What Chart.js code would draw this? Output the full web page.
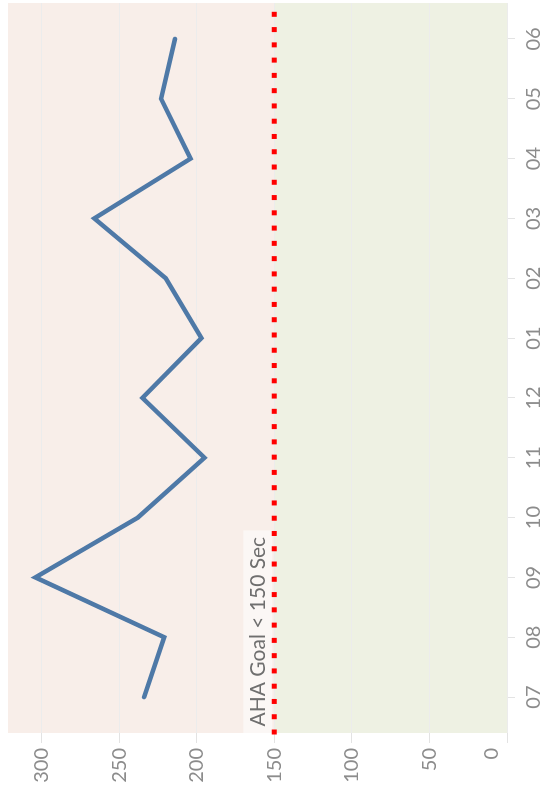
<!DOCTYPE html>
<html>
<head>
<meta charset="utf-8">
<script src="https://cdn.jsdelivr.net/npm/chart.js@4.4.1/dist/chart.umd.min.js"></script>
<style>
  html, body { margin: 0; padding: 0; background: #fff; }
  #wrap { position: relative; width: 543px; height: 787px; overflow: hidden; background: #fff; }
  /* the chart is laid out landscape and turned a quarter turn to stand upright */
  #chart { position: absolute; left: 0; top: 0; width: 787px; height: 543px;
           transform-origin: 0 0; transform: translate(0, 787px) rotate(-90deg); }
</style>
</head>
<body>
<div id="wrap"><canvas id="chart" width="787" height="543"></canvas></div>
<script>
// Monthly door-to-needle time (seconds)
const months = ['07', '08', '09', '10', '11', '12', '01', '02', '03', '04', '05', '06'];
const seconds = [234, 221, 304, 238, 195, 235, 197, 220, 266, 204, 223, 214];
const valueTicks = [0, 50, 100, 150, 200, 250, 300];
const goal = 150;
const goalLabel = 'AHA Goal < 150 Sec';

const FONT = 'Lato, "Open Sans", sans-serif';
const TICK_COLOR = '#8c8c8c';

// Shaded zones above / below the goal, plus nudging the "0" label inside the axis
const zones = {
  id: 'zones',
  beforeDraw(chart) {
    const { ctx, chartArea: a, scales: { y } } = chart;
    const g = y.getPixelForValue(goal);
    ctx.save();
    ctx.fillStyle = '#f8eee9';
    ctx.fillRect(a.left, a.top, a.right - a.left, g - a.top);
    ctx.fillStyle = '#eef1e3';
    ctx.fillRect(a.left, g, a.right - a.left, a.bottom - g);
    ctx.restore();

    if (typeof y.getLabelItems === 'function') {
      const items = y.getLabelItems();
      items.forEach(it => {
        if (String(it.label) === '0' && it.options && it.options.translation) {
          it.options.translation[1] -= 15;
        }
      });
    }
  },
  beforeDatasetsDraw(chart) {
    const { ctx, chartArea: a, scales: { y } } = chart;
    const g = y.getPixelForValue(goal);
    ctx.save();
    ctx.font = '21px ' + FONT;
    const w = ctx.measureText(goalLabel).width;
    ctx.fillStyle = '#fbf7f5';
    ctx.fillRect(a.left, g - 31, w + 13, 29);
    ctx.fillStyle = '#6f6f6f';
    ctx.textBaseline = 'alphabetic';
    ctx.fillText(goalLabel, a.left + 6.5, g - 9.5);
    ctx.restore();
  },
  afterDatasetsDraw(chart) {
    const { ctx, chartArea: a, scales: { y } } = chart;
    const g = y.getPixelForValue(goal);
    ctx.save();
    ctx.strokeStyle = '#ff0000';
    ctx.lineWidth = 5;
    ctx.lineCap = 'butt';
    ctx.setLineDash([5, 10.27]);
    ctx.beginPath();
    ctx.moveTo(a.left - 1.5, g);
    ctx.lineTo(a.right, g);
    ctx.stroke();
    ctx.restore();
  }
};

new Chart(document.getElementById('chart'), {
  type: 'line',
  data: {
    datasets: [{
      data: seconds.map((v, i) => ({ x: i, y: v })),
      borderColor: '#4e79a7',
      borderWidth: 4.5,
      borderCapStyle: 'round',
      borderJoinStyle: 'miter',
      pointRadius: 0,
      tension: 0,
      fill: false
    }]
  },
  options: {
    responsive: false,
    animation: false,
    devicePixelRatio: 1,
    layout: { padding: { top: 8, right: 3, left: 0, bottom: 0 } },
    plugins: { legend: { display: false }, tooltip: { enabled: false } },
    scales: {
      x: {
        type: 'linear',
        position: 'bottom',
        min: -0.6,
        max: 11.6,
        afterBuildTicks: s => { s.ticks = months.map((m, i) => ({ value: i })); },
        afterFit: s => { s.height = 36; s.paddingLeft = 0; s.paddingRight = 0; },
        grid: { drawOnChartArea: false, drawTicks: true, tickLength: 8, tickColor: '#e3e3e3' },
        border: { display: false },
        ticks: {
          autoSkip: false, maxRotation: 0, minRotation: 0, padding: 7,
          color: TICK_COLOR, font: { family: FONT, size: 20 },
          callback: v => months[v] ?? ''
        }
      },
      y: {
        type: 'linear',
        min: 0,
        max: 321.7,
        afterBuildTicks: s => { s.ticks = valueTicks.map(v => ({ value: v })); },
        afterFit: s => { s.width = 54; s.paddingTop = 0; s.paddingBottom = 0; },
        grid: { color: '#ececec', lineWidth: 1, tickLength: 10, tickColor: '#e3e3e3' },
        border: { display: false },
        ticks: { padding: 5, color: TICK_COLOR, font: { family: FONT, size: 20 } }
      }
    }
  },
  plugins: [zones]
});
</script>
</body>
</html>
